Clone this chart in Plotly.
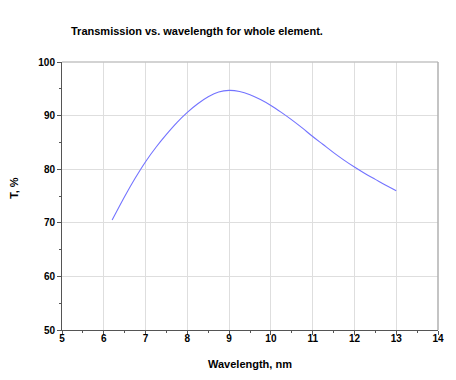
import plotly.graph_objects as go

wavelength = [6.2, 6.5, 6.75, 7.0, 7.25, 7.5, 7.75, 8.0, 8.25, 8.5, 8.75, 9.0, 9.25, 9.5,
              9.75, 10.0, 10.25, 10.5, 10.75, 11.0, 11.25, 11.5, 11.75, 12.0, 12.25, 12.5, 12.75, 13.0]
transmission = [70.5, 74.9, 78.3, 81.4, 84.1, 86.5, 88.7, 90.6, 92.2, 93.5, 94.4, 94.7, 94.5, 93.9,
                93.0, 91.9, 90.6, 89.2, 87.7, 86.1, 84.6, 83.1, 81.7, 80.4, 79.2, 78.1, 77.0, 76.0]

x_ticks = list(range(5, 15))
y_ticks = [50, 60, 70, 80, 90, 100]

FONT = "Liberation Sans, Arial, sans-serif"

fig = go.Figure()
fig.add_trace(go.Scatter(
    x=wavelength, y=transmission, mode="lines",
    line=dict(color="#7373ff", width=1.1, shape="spline", smoothing=1.0),
    hoverinfo="skip", showlegend=False,
))

axis_common = dict(
    showgrid=True, gridcolor="#dedede", gridwidth=1,
    showline=True, linecolor="#555555", linewidth=1,
    ticks="outside", ticklen=4, tickcolor="#555555", tickwidth=1,
    tickfont=dict(family=FONT, size=10, color="black", weight="bold"),
    zeroline=False,
)

fig.update_xaxes(
    range=[5, 14], tickvals=x_ticks, ticktext=[str(v) for v in x_ticks],
    minor=dict(dtick=0.5, ticks="outside", ticklen=2, tickcolor="#555555", showgrid=False),
    ticklabelstandoff=-5,
    **axis_common,
)
fig.update_yaxes(
    range=[50, 100], tickvals=y_ticks, ticktext=[str(v) for v in y_ticks],
    minor=dict(dtick=5, ticks="outside", ticklen=2, tickcolor="#555555", showgrid=False),
    ticklabelstandoff=0,
    **axis_common,
)

fig.update_layout(
    width=456, height=380,
    margin=dict(l=62, r=12, t=62, b=50),
    paper_bgcolor="white", plot_bgcolor="white",
    font=dict(family=FONT, color="black"),
    title=dict(
        text="Transmission vs. wavelength for whole element.",
        font=dict(family=FONT, size=11, color="black", weight="bold"),
        xref="container", yref="container",
        x=71 / 456, xanchor="left", y=1 - 31 / 380, yanchor="middle",
    ),
    shapes=[
        dict(type="line", xref="paper", yref="paper", x0=0, x1=1, y0=1, y1=1,
             line=dict(color="#c4c4c4", width=1.5)),
        dict(type="line", xref="paper", yref="paper", x0=1, x1=1, y0=0, y1=1,
             line=dict(color="#b0b0b0", width=1.5)),
    ],
    annotations=[
        dict(text="Wavelength, nm", xref="paper", yref="paper",
             x=(253 - 62) / 382, y=(330 - 364) / 268, xanchor="center", yanchor="middle",
             showarrow=False, font=dict(family=FONT, size=11, color="black", weight="bold")),
        dict(text="T, %", xref="paper", yref="paper", textangle=-90,
             x=(13 - 62) / 382, y=(330 - 188) / 268, xanchor="center", yanchor="middle",
             showarrow=False, font=dict(family=FONT, size=11, color="black", weight="bold")),
    ],
)

fig.write_html(
    "out.html",
    config={"displayModeBar": False, "staticPlot": True},
    post_script="document.body.style.margin='0';document.body.style.overflow='hidden';",
)
